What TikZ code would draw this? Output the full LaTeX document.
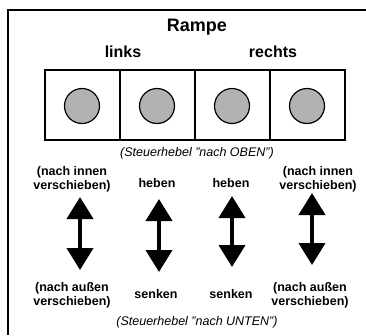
\documentclass[tikz,border=0pt]{standalone}
\usepackage{fontspec}
\setmainfont{Liberation Sans}
\usepackage{xcolor}
\usepackage{tikz}
\usetikzlibrary{arrows.meta}

\begin{document}
\begin{tikzpicture}[x=1pt,y=-1pt,
  titel/.style={font=\bfseries\fontsize{18}{20}\selectfont},
  seite/.style={font=\bfseries\fontsize{16}{18}\selectfont},
  hinweis/.style={font=\itshape\fontsize{12.5}{14}\selectfont},
  richtung/.style={font=\bfseries\fontsize{12.5}{14}\selectfont, align=center, inner sep=0pt},
  hebel/.style={line width=4pt, {Triangle[width=26pt,length=22pt]}-{Triangle[width=26pt,length=22pt]}},
  knopf/.style={draw=black, line width=1.2pt, fill=gray!60}]
\useasboundingbox (0,0) rectangle (366,335);
\draw[line width=2pt] (8,335) -- (8,10) -- (366,10);
\node (rampe) at (197,27) [titel] {Rampe};
\node (links) at (123,52) [seite] {links};
\node (rechts) at (273,52) [seite] {rechts};
\draw[line width=1.6pt] (45,70) rectangle (345,140);
\draw[line width=1.6pt] (120,70) -- (120,140);
\draw[line width=1.6pt] (195,70) -- (195,140);
\draw[line width=1.6pt] (270,70) -- (270,140);
\foreach \x/\n in {82/1,157/2,232/3,307/4}
  \draw[knopf] (\x,106) circle (17.5pt);
\node (oben) at (197,153) [hinweis] {(Steuerhebel "nach OBEN")};
\node (hinauf1) at (72,179) [richtung] {(nach innen\\verschieben)};
\node (hinauf2) at (157,183) [richtung] {heben};
\node (hinauf3) at (231,183) [richtung] {heben};
\node (hinauf4) at (318,179) [richtung] {(nach innen\\verschieben)};
% Steuerhebel
\coordinate (h1a) at (80,197);  \coordinate (h1b) at (80,270);
\coordinate (h2a) at (159,199); \coordinate (h2b) at (159,272);
\coordinate (h3a) at (232,196); \coordinate (h3b) at (232,267);
\coordinate (h4a) at (312,193); \coordinate (h4b) at (312,265);
\draw[hebel] (h1a) -- (h1b);
\draw[hebel] (h2a) -- (h2b);
\draw[hebel] (h3a) -- (h3b);
\draw[hebel] (h4a) -- (h4b);
\node (hinab1) at (72,295) [richtung] {(nach außen\\verschieben)};
\node (hinab2) at (156,294) [richtung] {senken};
\node (hinab3) at (231,294) [richtung] {senken};
\node (hinab4) at (310,295) [richtung] {(nach außen\\verschieben)};
\node (unten) at (197,322) [hinweis] {(Steuerhebel "nach UNTEN")};
\end{tikzpicture}
\end{document}
